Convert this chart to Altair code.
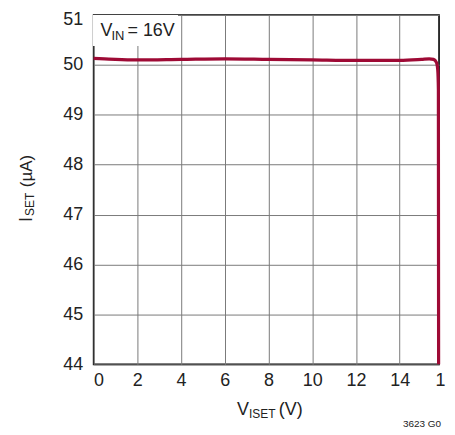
import altair as alt
import pandas as pd

# Data
vx = [0, 0.5, 1, 2, 4, 6, 8, 10, 12, 14, 15, 15.35, 15.55, 15.68, 15.74, 15.77, 15.78]
iset = [50.13, 50.12, 50.11, 50.10, 50.11, 50.12, 50.11, 50.10, 50.09, 50.09, 50.11, 50.12, 50.11, 50.05, 49.9, 49.5, 44.0]
x_ticks = [0, 2, 4, 6, 8, 10, 12, 14]
y_ticks = [44, 45, 46, 47, 48, 49, 50, 51]

FONT = "Liberation Sans"
W, H = 347, 351
LINE_COLOR = "#9E0A35"

df = pd.DataFrame({"v": vx, "i": iset})

xs = alt.Scale(domain=[0, 15.8], nice=False, zero=False)
ys = alt.Scale(domain=[44, 51], nice=False, zero=False)

base = alt.Chart(df)

line = base.mark_line(color=LINE_COLOR, strokeWidth=3.2, interpolate="monotone").encode(
    x=alt.X("v:Q", scale=xs, title=None,
            axis=alt.Axis(values=x_ticks, grid=True, ticks=False, domain=False,
                          labelFontSize=18, labelFont=FONT, labelColor="#222",
                          labelPadding=7, gridColor="#7a7a7a", gridWidth=1)),
    y=alt.Y("i:Q", scale=ys, title=None,
            axis=alt.Axis(values=y_ticks, grid=True, ticks=False, domain=False,
                          labelFontSize=18, labelFont=FONT, labelColor="#222",
                          labelPadding=11, gridColor="#7a7a7a", gridWidth=1,
                          labelOffset={"condition": {"test": "datum.value === 51", "value": 5},
                                       "value": 0})),
)

one = pd.DataFrame({"v": [16], "t": ["1"]})
last_label = alt.Chart(one).mark_text(
    font=FONT, fontSize=18, color="#222", align="center", baseline="top", dx=-3, dy=8
).encode(x=alt.X("v:Q", scale=xs), y=alt.value(H), text="t:N")

box = base.mark_rect(color="white").encode(
    x=alt.value(0), x2=alt.value(84), y=alt.value(0), y2=alt.value(31)
)

def txt(s, x, y, size=18, angle=0, align="left"):
    return alt.Chart(pd.DataFrame({"t": [s]})).mark_text(
        font=FONT, fontSize=size, color="#222", align=align,
        baseline="alphabetic", angle=angle
    ).encode(x=alt.value(x), y=alt.value(y), text="t:N")

annot = [txt("V", 7, 21), txt("IN", 18, 25, 13), txt("= 16V", 34, 21)]
xtitle = [txt("V", 144, 402), txt("ISET", 156, 405, 12), txt("(V)", 186, 402)]
ytitle = [txt("I", -62, 208, angle=270), txt("SET", -60, 202, 12, angle=270),
          txt("(µA)", -62, 173, 17, angle=270)]
foot = [txt("3623 G0", 349, 414, 10, align="right")]

chart = alt.layer(line, box, last_label, *annot, *xtitle, *ytitle, *foot).properties(
    width=W, height=H,
    autosize=alt.AutoSizeParams(type="none"),
    padding={"left": 86, "top": 6, "right": 8, "bottom": 66},
).configure_view(stroke="black", strokeWidth=1.6)

chart.save("out.html", embed_options={"renderer": "svg", "actions": False})
